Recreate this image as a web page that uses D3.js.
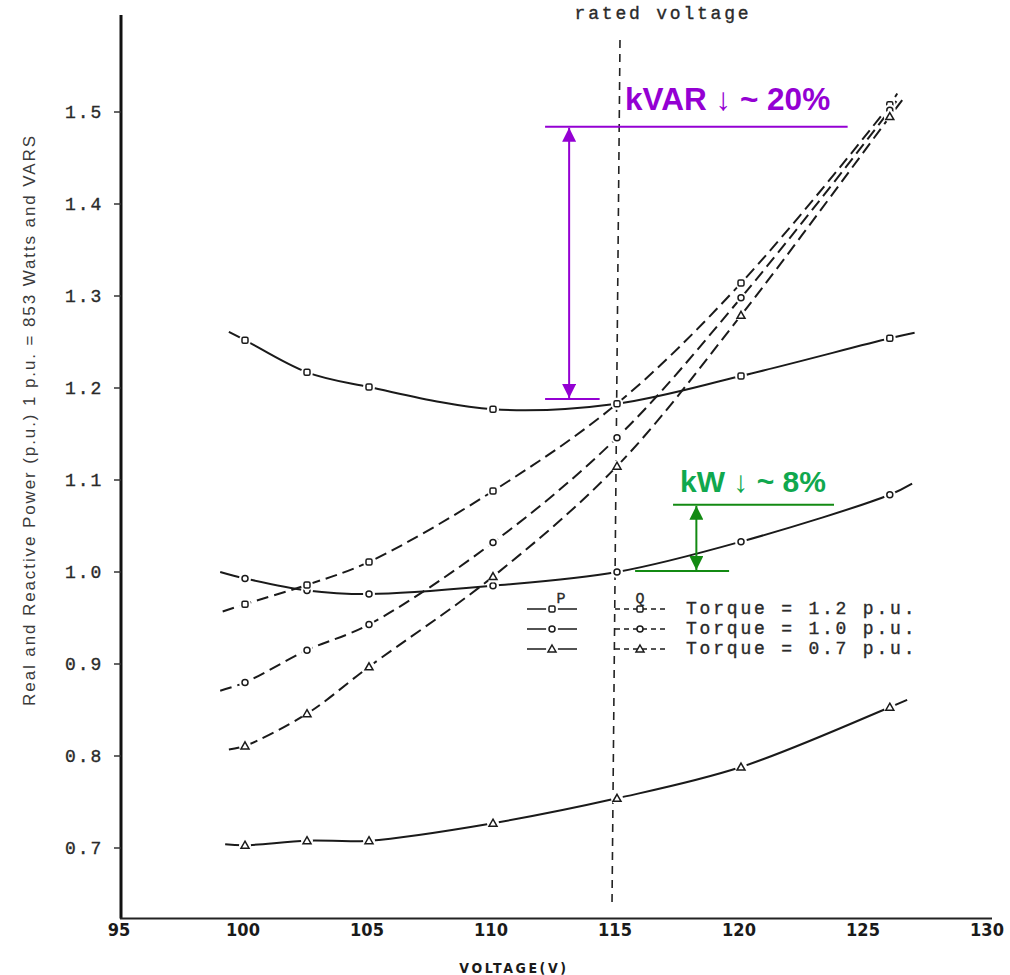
<!DOCTYPE html>
<html>
<head>
<meta charset="utf-8">
<script src="https://cdn.jsdelivr.net/npm/d3@7"></script>
<style>
    body { margin: 0; background: #ffffff; }
    .mono { font-family: "Liberation Mono", "DejaVu Sans Mono", monospace; fill: #2a2a2a; stroke: #2a2a2a; stroke-width: 0.35px; }
    .ticklabel { font-family: "Liberation Sans Narrow", "DejaVu Sans Condensed", "Liberation Sans", sans-serif; font-weight: bold; fill: #1a1a1a; }
</style>
</head>
<body>
<script>

// Voltages where the markers sit
var volts = [100, 102.5, 105, 110, 115, 120, 126];

// Real power P (p.u.) for each torque
var pTorque12 = [1.252, 1.217, 1.201, 1.177, 1.183, 1.213, 1.254];
var pTorque10 = [0.993, 0.980, 0.976, 0.985, 1.000, 1.033, 1.084];
var pTorque07 = [0.703, 0.708, 0.708, 0.727, 0.754, 0.788, 0.853];

// Reactive power Q (p.u.) for each torque
var qTorque12 = [0.965, 0.986, 1.011, 1.088, 1.183, 1.314, 1.508];
var qTorque10 = [0.880, 0.915, 0.943, 1.032, 1.146, 1.298, 1.502];
var qTorque07 = [0.811, 0.846, 0.897, 0.995, 1.115, 1.279, 1.495];

// Where each drawn line starts and ends (voltage, p.u.)
var lineStarts = [[99.35, 1.261], [99.0, 1.000], [99.2, 0.704], [99.1, 0.957], [99.0, 0.871], [99.35, 0.807]];
var lineEnds = [[127.0, 1.260], [126.9, 1.096], [126.7, 0.861], [126.3, 1.520], [126.4, 1.517], [126.5, 1.513]];

// Tick labels
var xTicks = [95, 100, 105, 110, 115, 120, 125, 130];
var yTicks = [0.7, 0.8, 0.9, 1.0, 1.1, 1.2, 1.3, 1.4, 1.5];
var torqueLabels = ["Torque = 1.2 p.u.", "Torque = 1.0 p.u.", "Torque = 0.7 p.u."];
var markerShapes = ["square", "circle", "triangle"];

// Annotation values
var ratedVoltage = 115;
var kvarTop = 1.484, kvarBottom = 1.188;
var kwTop = 1.073, kwBottom = 1.001;

window.onload = function() {

    var svgWidth = 1010;
    var svgHeight = 975;

    const svg = d3.select("body").append("svg")
        .attr("width", svgWidth)
        .attr("height", svgHeight);

    // Scales
    const xScale = d3.scaleLinear().domain([95, 130]).range([121, 989]);
    const yScale = d3.scaleLinear().domain([0.7, 1.5]).range([848, 112]);
    var axisBottomY = yScale(0.6235);
    var axisTopY = 15;

    // Arrow heads
    var defs = svg.append("defs");
    [["arrowPurple", "#9400d3"], ["arrowGreen", "#138a13"]].forEach(function(a) {
        defs.append("marker")
            .attr("id", a[0])
            .attr("viewBox", "0 0 10 10")
            .attr("refX", 10).attr("refY", 5)
            .attr("markerWidth", 7).attr("markerHeight", 7)
            .attr("markerUnits", "strokeWidth")
            .attr("orient", "auto-start-reverse")
            .append("path")
            .attr("d", "M0,0 L10,5 L0,10 Z")
            .attr("fill", a[1]);
    });

    // Rated voltage line
    svg.append("line")
        .attr("x1", xScale(ratedVoltage) + 3).attr("x2", xScale(ratedVoltage) - 5)
        .attr("y1", 40).attr("y2", 905)
        .attr("stroke", "#222")
        .attr("stroke-width", 1.6)
        .attr("stroke-dasharray", "8,6");

    svg.append("text")
        .attr("class", "mono")
        .attr("x", xScale(ratedVoltage) + 46)
        .attr("y", 19)
        .attr("text-anchor", "middle")
        .style("font-size", "18px")
        .style("letter-spacing", "2.8px")
        .text("rated voltage");

    // Axes lines
    svg.append("line")
        .attr("x1", xScale(95)).attr("x2", xScale(95))
        .attr("y1", axisTopY).attr("y2", axisBottomY)
        .attr("stroke", "#111").attr("stroke-width", 3);
    svg.append("line")
        .attr("x1", xScale(95) - 1).attr("x2", xScale(130) + 3)
        .attr("y1", axisBottomY).attr("y2", axisBottomY)
        .attr("stroke", "#222").attr("stroke-width", 2);

    // Y ticks and labels
    yTicks.forEach(function(t) {
        svg.append("line")
            .attr("x1", xScale(95) - 7).attr("x2", xScale(95))
            .attr("y1", yScale(t)).attr("y2", yScale(t))
            .attr("stroke", "#333").attr("stroke-width", 1.5);
        svg.append("text")
            .attr("class", "mono")
            .attr("x", 65)
            .attr("y", yScale(t) + 6)
            .style("font-size", "18px")
            .style("letter-spacing", "2px")
            .text(t.toFixed(1));
    });

    // X tick labels
    xTicks.forEach(function(t) {
        svg.append("text")
            .attr("class", "ticklabel")
            .attr("x", xScale(t) - 2)
            .attr("y", axisBottomY + 18)
            .attr("text-anchor", "middle")
            .style("font-size", "18px")
            .text(t);
    });

    // X label
    svg.append("text")
        .attr("class", "ticklabel")
        .attr("x", 514)
        .attr("y", 973)
        .attr("text-anchor", "middle")
        .style("font-size", "14px")
        .style("letter-spacing", "2.6px")
        .text("VOLTAGE(V)");

    // Y label
    svg.append("text")
        .attr("transform", "translate(35, 420) rotate(-90)")
        .attr("text-anchor", "middle")
        .style("font-family", "'Liberation Sans', Arial, sans-serif")
        .style("font-size", "17px")
        .style("letter-spacing", "1.9px")
        .style("fill", "#3a3a3a")
        .text("Real and Reactive Power (p.u.) 1 p.u. = 853 Watts and VARS");

    // Curves
    var series = [
        { values: pTorque12, dashed: false, shape: "square" },
        { values: pTorque10, dashed: false, shape: "circle" },
        { values: pTorque07, dashed: false, shape: "triangle" },
        { values: qTorque12, dashed: true, shape: "square" },
        { values: qTorque10, dashed: true, shape: "circle" },
        { values: qTorque07, dashed: true, shape: "triangle" }
    ];

    const line = d3.line()
        .x(function(d) { return xScale(d[0]); })
        .y(function(d) { return yScale(d[1]); })
        .curve(d3.curveCatmullRom.alpha(0.5));

    series.forEach(function(s, i) {
        var pts = [lineStarts[i]];
        volts.forEach(function(v, j) { pts.push([v, s.values[j]]); });
        pts.push(lineEnds[i]);

        svg.append("path")
            .attr("d", line(pts))
            .attr("fill", "none")
            .attr("stroke", "#1a1a1a")
            .attr("stroke-width", 2)
            .attr("stroke-dasharray", s.dashed ? "12,6" : null);
    });

    // Markers on top of the curves
    series.forEach(function(s) {
        volts.forEach(function(v, j) {
            drawMarker(svg, s.shape, xScale(v), yScale(s.values[j]), true);
        });
    });

    // Legend
    svg.append("text").attr("class", "mono")
        .attr("x", 561).attr("y", 603)
        .attr("text-anchor", "middle")
        .style("font-size", "15px").text("P");
    svg.append("text").attr("class", "mono")
        .attr("x", 640).attr("y", 603)
        .attr("text-anchor", "middle")
        .style("font-size", "15px").text("Q");

    torqueLabels.forEach(function(label, i) {
        var ry = 609 + i * 20;

        // P sample: solid line broken around the marker
        svg.append("line")
            .attr("x1", 527).attr("x2", 577)
            .attr("y1", ry).attr("y2", ry)
            .attr("stroke", "#1a1a1a").attr("stroke-width", 1.6);
        drawMarker(svg, markerShapes[i], 552, ry, true);

        // Q sample: short dashes
        svg.append("line")
            .attr("x1", 615).attr("x2", 666)
            .attr("y1", ry).attr("y2", ry)
            .attr("stroke", "#1a1a1a").attr("stroke-width", 1.6)
            .attr("stroke-dasharray", "5,4");
        drawMarker(svg, markerShapes[i], 640, ry, false);

        svg.append("text")
            .attr("class", "mono")
            .attr("x", 686)
            .attr("y", ry + 5)
            .style("font-size", "18px")
            .style("letter-spacing", "2.8px")
            .text(label);
    });

    // kVAR annotation
    var purple = "#9400d3";
    svg.append("line")
        .attr("x1", xScale(112.1)).attr("x2", xScale(124.3))
        .attr("y1", yScale(kvarTop)).attr("y2", yScale(kvarTop))
        .attr("stroke", purple).attr("stroke-width", 2);
    svg.append("line")
        .attr("x1", xScale(112.1)).attr("x2", xScale(114.3))
        .attr("y1", yScale(kvarBottom)).attr("y2", yScale(kvarBottom))
        .attr("stroke", purple).attr("stroke-width", 2);
    svg.append("line")
        .attr("x1", xScale(113.07)).attr("x2", xScale(113.07))
        .attr("y1", yScale(kvarTop) + 1).attr("y2", yScale(kvarBottom) - 1)
        .attr("stroke", purple).attr("stroke-width", 2)
        .attr("marker-start", "url(#arrowPurple)")
        .attr("marker-end", "url(#arrowPurple)");
    svg.append("text")
        .attr("x", 625).attr("y", 110)
        .style("font-family", "'Liberation Sans', Arial, sans-serif")
        .style("font-weight", "bold")
        .style("font-size", "31.5px")
        .style("fill", purple)
        .text("kVAR \u2193 ~ 20%");

    // kW annotation
    var green = "#138a13";
    svg.append("line")
        .attr("x1", xScale(117.26)).attr("x2", xScale(123.75))
        .attr("y1", yScale(kwTop)).attr("y2", yScale(kwTop))
        .attr("stroke", green).attr("stroke-width", 2);
    svg.append("line")
        .attr("x1", xScale(115.73)).attr("x2", xScale(119.52))
        .attr("y1", yScale(kwBottom)).attr("y2", yScale(kwBottom))
        .attr("stroke", green).attr("stroke-width", 2);
    svg.append("line")
        .attr("x1", xScale(118.2)).attr("x2", xScale(118.2))
        .attr("y1", yScale(kwTop) + 1).attr("y2", yScale(kwBottom) - 1)
        .attr("stroke", green).attr("stroke-width", 2)
        .attr("marker-start", "url(#arrowGreen)")
        .attr("marker-end", "url(#arrowGreen)");
    svg.append("text")
        .attr("x", 680).attr("y", 492)
        .style("font-family", "'Liberation Sans', Arial, sans-serif")
        .style("font-weight", "bold")
        .style("font-size", "30px")
        .style("fill", "#10a84e")
        .text("kW \u2193 ~ 8%");
};


/*
 * Draws a small open marker (square, circle or triangle)
 */

function drawMarker(svg, shape, cx, cy, gap) {

    // White halo to break the line around the marker
    if (gap) {
        svg.append("circle")
            .attr("cx", cx).attr("cy", cy).attr("r", 6)
            .attr("fill", "#fff");
    }

    var m;
    if (shape == "square") {
        m = svg.append("rect")
            .attr("x", cx - 3).attr("y", cy - 3)
            .attr("width", 6).attr("height", 6)
            .attr("rx", 1.5);
    } else if (shape == "circle") {
        m = svg.append("circle")
            .attr("cx", cx).attr("cy", cy).attr("r", 3);
    } else {
        m = svg.append("path")
            .attr("d", `M${cx},${cy - 4} L${cx + 4},${cy + 3} L${cx - 4},${cy + 3} Z`);
    }
    m.attr("fill", "#fff")
        .attr("stroke", "#1a1a1a")
        .attr("stroke-width", 1.5);
};

</script>
</body>
</html>
